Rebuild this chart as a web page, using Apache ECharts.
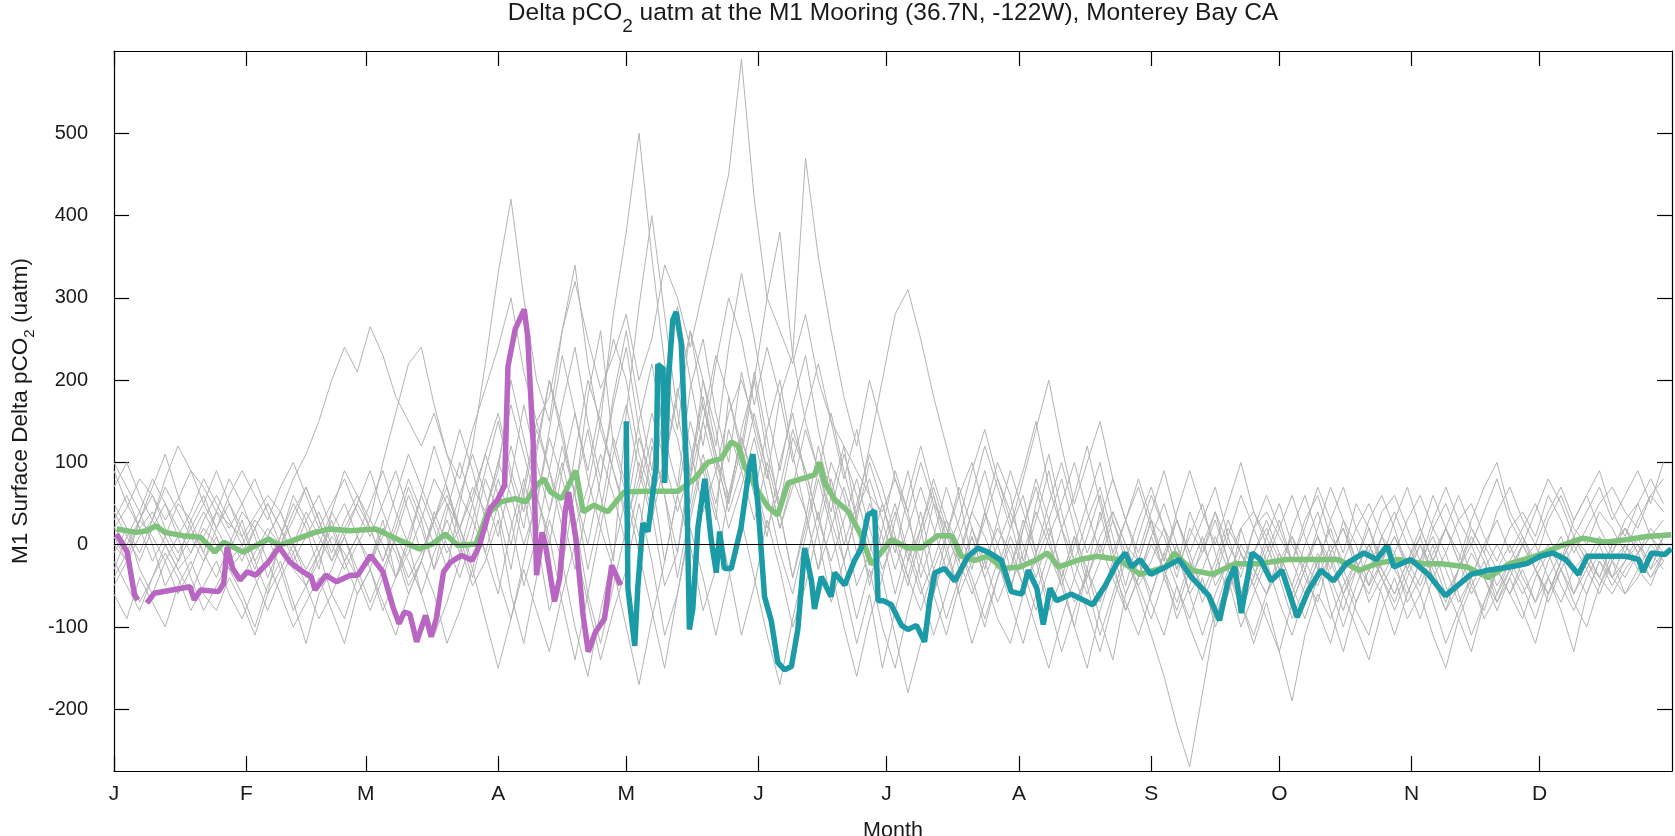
<!DOCTYPE html>
<html>
<head>
<meta charset="utf-8">
<title>Delta pCO2 at the M1 Mooring</title>
<script src="https://cdn.jsdelivr.net/npm/echarts@6/dist/echarts.min.js"></script>
<style>
html, body { margin: 0; padding: 0; background: #fff; }
#chart { width: 1675px; height: 836px; }
</style>
</head>
<body>
<div id="chart"></div>
<script>
// month starts as day of year, and their one-letter labels
const monthDays = [0, 31, 59, 90, 120, 151, 181, 212, 243, 273, 304, 334]
const monthLetters = ['J', 'F', 'M', 'A', 'M', 'J', 'J', 'A', 'S', 'O', 'N', 'D']
const yTicks = [-200, -100, 0, 100, 200, 300, 400, 500]

// gray: single years, one value every 3 days from Jan 1
const grayStep = 3
const gray1 = [20, 45, 80, 60, 30, 55, 90, 70, 40, 25,
  10, 35, 60, 40, 80, 110, 150, 200, 240, 210,
  265, 230, 180, 150, 120, 160, 110, 80, 140, 190,
  240, 300, 210, 150, 180, 260, 320, 250, 190, 230,
  280, 200, 250, 340, 300, 240, 310, 380, 450, 590,
  420, 300, 260, 220, 280, 200, 150, 120, 90, 60,
  40, 80, 30, -20, 50, 20, -10, 40, 10, -30,
  20, 60, -10, 30, 80, 20, -40, 10, 40, 0,
  -20, 30, 10, -40, 20, -10, 40, 0, -30, 20,
  40, 10, -20, 30, 60, 10, -20, 20, 50, 10,
  -10, 30, 60, 20, -10, 30, 50, 10, -20, 20,
  40, 10, 60, 30, -10, 20, 50, 70, 40, 20, 60, 80]
const gray2 = [-30, 10, 40, 0, -50, -20, 30, 60, 20, -10,
  30, -20, -60, 10, 50, 20, -30, 40, 90, 60,
  30, 100, 160, 220, 240, 170, 110, 60, 30, 90,
  150, 80, 20, 110, 200, 140, 60, 180, 260, 120,
  60, 150, 220, 130, 70, 190, 250, 160, 100, 210,
  140, 80, 180, 230, 150, 90, 40, 110, 60, 0,
  -40, 30, 90, 20, -60, 10, 60, -20, 30, 80,
  30, -30, 50, 110, 40, -20, 30, 70, 10, -50,
  10, 60, 20, -30, 10, 50, -10, -60, 20, 40,
  0, -40, 20, 60, 10, -30, 30, 0, -50, 10,
  40, 0, -30, 20, 50, 10, -40, 0, 30, -10,
  20, 50, 10, -20, 30, 60, 20, -10, 30, 50, 10, 30]
const gray3 = [-60, -90, -40, -70, -100, -50, -20, -60, -80, -40,
  -70, -110, -60, -30, -80, -50, -10, -60, -90, -40,
  -20, 30, -40, 10, 60, 20, -30, 50, 120, 220,
  330, 420, 300, 200, 150, 260, 340, 220, 140, 90,
  40, 130, 80, -20, 60, 150, 90, 30, 180, 120,
  60, 140, 200, 110, 40, -30, 60, 120, 30, -50,
  20, 90, 40, -40, 10, 70, 20, -30, 40, 100,
  60, -20, 30, 90, 20, -40, 10, 60, -10, -60,
  -20, 30, -40, -80, -30, 10, -50, -20, 20, -30,
  -60, -20, 10, -40, -70, -10, 20, -30, -60, -20,
  10, -30, -60, -20, 20, -10, -50, -80, -30, 0,
  -40, -70, -20, 10, -30, -60, -20, -40, 0, -30, -50, -10]
const gray4 = [50, 20, -10, 30, 70, 40, 10, -20, 20, 50,
  20, -20, 10, 40, 0, -40, -10, 30, -20, -60,
  -30, 20, -10, -60, -20, 40, 0, -40, 10, 80,
  40, -30, 60, 140, 90, 20, 110, 200, 150, 280,
  380, 500, 350, 220, 140, 260, 200, 120, 240, 330,
  250, 160, 90, 170, 230, 140, 70, 0, 50, 110,
  70, 10, -40, 20, 80, 30, -20, 40, 90, 30,
  -30, 20, 70, 10, -50, 0, 50, 100, 30, -20,
  30, 70, 20, -30, 40, 0, -40, 10, 60, 20,
  -20, 20, 60, 10, -30, 30, 70, 20, -10, 40,
  60, 20, -20, 30, 70, 30, 0, 40, 80, 30,
  0, 40, 80, 50, 10, 40, 70, 30, 60, 90, 50, 100]
const gray5 = [10, -20, 30, 70, 110, 60, 20, -10, 40, 80,
  50, 10, -40, 0, 40, 70, 30, -20, 20, 50,
  90, 40, 0, -50, -20, 30, -10, 20, 70, 40,
  100, 170, 110, 50, 140, 230, 160, 90, 170, 250,
  200, 110, 60, 170, 130, 50, 150, 230, 180, 110,
  200, 300, 380, 230, 470, 350, 260, 180, 120, 200,
  140, 80, 40, 100, 50, -10, 30, 90, 140, 80,
  40, 90, 150, 70, 20, 60, 120, 50, -10, 30,
  80, 30, -20, 40, 90, 40, 0, 50, 100, 40,
  10, 50, 0, -30, 20, 70, 30, -20, 30, 60,
  20, -30, 10, 60, 20, -20, 30, 70, 100, 40,
  10, -20, 30, 60, 20, 0, 40, 20, -10, 30, 60, 40]
const gray6 = [-20, -50, -80, -40, 0, -30, -60, -20, 10, -30,
  -60, -100, -50, -20, -70, -120, -60, -30, 10, -40,
  -80, -40, 10, 60, 20, -30, 40, 100, 50, -10,
  -60, 20, 80, 10, -80, -30, 70, 140, 60, -20,
  160, 290, 400, 280, 160, 80, 200, 140, 50, 120,
  210, 130, 40, -40, 30, 120, 60, -20, -90, -30,
  -100, -150, -80, -20, -60, -110, -50, 10, -40, -90,
  -120, -60, -10, -70, -130, -80, -30, -90, -140, -60,
  -20, -70, -110, -50, -90, -40, -100, -60, -10, -50,
  -90, -130, -70, -30, -80, -120, -60, -100, -140, -80,
  -40, -90, -60, -110, -150, -90, -50, -20, -70, -40,
  -80, -120, -60, -30, -70, -100, -50, -20, -60, -40, -10, -30]
const gray7 = [30, 60, 20, -20, 10, 50, 30, -10, -40, 0,
  40, 20, -20, 10, 60, 30, -10, 20, 50, 10,
  -20, 10, 60, 110, 70, 30, 80, 140, 90, 30,
  -40, -90, -20, 60, 10, -70, -140, -60, 20, -30,
  -100, -170, -90, -20, 60, 0, -80, -30, 60, 130,
  70, 10, 100, 160, 80, 10, -70, -20, 40, 120,
  200, 280, 310, 250, 180, 120, 60, 100, 40, -20,
  -60, 20, 80, 30, -40, -100, -30, 40, -20, -80,
  -40, 10, -30, -90, -50, 0, 40, -20, -60, -10,
  30, -10, -50, 0, 40, -10, -60, -20, 20, -30,
  -60, -20, 10, -40, -80, -30, 20, -10, -50, -20,
  10, -30, -60, -20, 10, -10, -40, 0, 20, -10, 10, -20]
const gray8 = [70, 100, 60, 30, 80, 120, 90, 50, 20, 60,
  90, 60, 30, 70, 100, 60, 20, 50, 80, 40,
  10, 50, 90, 40, -10, 30, 70, 20, 60, 110,
  160, 90, 40, 120, 200, 130, 60, 0, 80, 170,
  240, 140, 60, 100, 190, 120, 40, 90, 160, 200,
  150, 90, 20, 70, 140, 90, 30, -20, 40, 80,
  30, -30, 20, 70, 20, -30, 10, 60, 120, 70,
  20, 80, 140, 200, 120, 50, 100, 150, 80, 30,
  70, 20, -20, 30, -10, -60, -20, 30, -10, -40,
  10, -30, -70, -30, 10, -20, -60, -30, 0, -40,
  -70, -30, 0, -40, -80, -50, -10, -40, -70, -30,
  0, -30, -60, -20, 10, -20, -50, -10, 20, 0, -20, 10]
const gray9 = [-10, 20, -30, -60, -20, 10, -40, -80, -50, -20,
  0, -40, -80, -40, -10, -50, -90, -60, -20, 10,
  -30, -80, -40, 0, -60, -110, -70, -20, 30, -10,
  50, 120, 60, -20, 40, 100, 30, -60, -120, -50,
  20, 100, 40, -50, -10, 80, 150, 90, 20, 70,
  130, 60, -10, -60, 10, 80, 20, -50, -120, -60,
  -150, -80, -20, 40, -30, -90, -40, 20, -20, -70,
  -30, 30, -20, -80, -40, 10, -50, -110, -60, -10,
  -60, -110, -160, -220, -270, -180, -90, -40, -100, -60,
  -20, -70, -110, -60, -20, -80, -130, -70, -30, -60,
  -110, -60, -20, -70, -120, -80, -40, -90, -60, -20,
  -50, -90, -40, -10, -60, -30, 0, -40, -20, 10, -30, -10]
const gray10 = [40, 10, -20, 20, 50, 20, -10, 30, 60, 30,
  0, 30, 10, -30, 0, 40, 10, -20, 10, 50,
  20, -20, 30, 80, 40, 0, 50, 20, -30, 40,
  90, 200, 130, 60, 0, 90, 160, 80, 20, 110,
  170, 90, 30, 100, 180, 260, 170, 100, 50, 140,
  200, 110, 50, 130, 90, 30, 100, 60, -10, 50,
  10, -60, 0, -50, -110, -60, 0, -40, -90, -40,
  0, -50, -100, -150, -90, -40, -80, -130, -70, -20,
  -50, -90, -40, 0, -60, -110, -60, -20, -70, -120,
  -70, -130, -190, -110, -60, -90, -50, -20, -70, -40,
  -10, -50, -90, -40, -10, -60, -110, -70, -30, -60,
  -30, -70, -40, -80, -130, -60, -20, -50, -20, 0, -30, 10]
const gray11 = [0, -20, 10, 30, 0, -30, -10, 20, 0, -20,
  -40, -10, 20, 0, -30, -50, -20, 10, -10, -40,
  -20, 20, 0, -40, -10, 30, 60, 20, -20, 40,
  100, 60, 0, 50, 130, 80, 20, 70, 150, 90,
  30, 80, 160, 100, 40, 90, 170, 110, 60, 130,
  80, 20, 70, 140, 90, 30, -20, 30, 80, 20,
  -30, 10, -40, -80, -30, 10, -20, -60, -20, 20,
  -10, -50, -20, 20, -30, -70, -40, 0, -40, -80,
  -40, 0, -30, -70, -20, -50, -90, -40, 0, -30,
  -60, -30, 10, -20, -50, -10, 20, -20, -50, -20,
  10, -20, -50, -10, 20, -20, -60, -30, 0, -30,
  -60, -30, 0, -30, -60, -20, 10, -20, -40, -10, 10, -10]
const gray12 = [90, 50, 20, 40, 10, -20, 10, 40, 10, -30,
  -10, 20, 50, 20, -20, 10, 40, 0, -30, 0,
  30, 0, -40, -10, 30, 80, 50, 0, -50, -20,
  30, -60, -120, -40, 30, -20, -100, -160, -80, -10,
  60, -10, -80, -150, -60, 20, -40, -110, -40, 30,
  -40, -110, -170, -90, -20, 40, -30, -100, -160, -90,
  -40, -110, -180, -120, -60, -10, -60, -120, -70, -20,
  -70, -120, -60, -10, -50, -100, -150, -80, -30, -70,
  -110, -60, -10, -50, -100, -140, -80, -30, -70, -110,
  -60, -10, -50, -90, -40, 0, -40, -80, -110, -50,
  -20, -70, -40, 0, -50, -90, -130, -70, -30, -60,
  -90, -40, -10, -50, -80, -40, -10, -40, -60, -30, 0, -20]
const gray13 = [-40, -10, 30, 10, -20, -60, -30, 10, 40, 10,
  -20, 20, 50, 20, -10, 30, 60, 20, -20, 10,
  50, 90, 40, 0, 60, 120, 70, 10, -40, 20,
  80, 30, -50, 10, 90, 40, -30, 50, 110, 60,
  0, 70, 130, 60, -10, 100, 180, 110, 40, 90,
  160, 90, 20, 80, 40, -30, 20, 70, 20, -40,
  0, 50, -10, -60, -20, 30, 0, -50, -100, -40,
  10, -30, -80, -30, 20, -20, -60, -20, 30, -10,
  -50, -20, 20, -10, -60, -30, 10, -30, -80, -40,
  0, -40, -90, -50, -10, -50, -100, -50, -10, -40,
  -80, -40, 0, -30, -70, -30, 10, -20, -60, -30,
  0, -30, -70, -30, 0, -30, -60, -20, 0, -20, -40, -10]
const gray14 = [100, 70, 40, 80, 50, 10, 40, 80, 50, 20,
  50, 80, 40, 0, 30, 70, 30, -10, 30, 60,
  20, -20, 20, 70, 30, -30, 10, 60, 110, 60,
  10, 80, 170, 100, 40, 120, 60, -30, 40, 130,
  70, 10, 120, 60, -40, 40, 110, 50, 140, 90,
  30, 100, 40, -40, 20, 90, 160, 90, 30, 100,
  50, -10, 60, 120, 60, 10, 70, 20, -30, 30,
  90, 40, -10, 50, 100, 40, -10, 30, 80, 30,
  -10, 40, 90, 30, -10, 30, 70, 10, -40, 20,
  60, 20, -20, 20, 70, 30, -10, 50, 20, -20,
  30, 70, 20, -20, 20, 60, 20, -10, 40, 70,
  30, 0, 40, 70, 30, 60, 90, 40, 10, 50, 80, 50]
const gray15 = [-50, -20, -70, -40, -10, -40, -80, -50, -20, -60,
  -90, -50, -20, -60, -100, -70, -40, -80, -120, -60,
  -30, -70, -110, -60, -20, -60, -120, -80, -30, -90,
  -150, -90, -30, -80, -130, -60, 0, -70, -140, -80,
  -30, 50, -20, -110, -60, 30, 100, 40, -30, -110,
  -50, 30, -30, -100, -50, 20, 80, 20, -50, -10,
  50, 0, -50, 10, 60, 0, -60, -20, 40, 0,
  -50, -10, 40, 0, -40, 10, -30, -70, -20, 30,
  -20, -60, -10, 30, -20, -70, -30, 20, -10, -50,
  -10, 30, -20, -60, -20, 20, -30, -70, -30, 10,
  -30, -60, -20, 10, -30, -70, -40, 0, -30, -60,
  -20, 0, -40, -70, -30, -10, -40, -60, -30, -10, -40, -20]
const gray16 = [20, 0, 30, 60, 20, -10, 20, 50, 90, 50,
  10, -30, 10, 40, 0, -30, 0, 40, 10, -30,
  -70, -30, 10, -20, -60, -10, 30, -10, 50, 110,
  60, 0, 70, 150, 90, 170, 240, 150, 80, 180,
  260, 170, 90, 200, 290, 200, 120, 220, 300, 250,
  170, 240, 180, 100, 160, 220, 150, 80, 140, 60,
  -10, 40, -20, 20, 70, 20, -30, 10, -40, 0,
  40, 0, -40, 10, 50, 100, 40, -10, 40, 0,
  -40, 10, 50, 0, -40, -10, 30, -20, -60, -10,
  20, -20, -60, -20, 10, -40, -80, -30, 0, -30,
  -60, -20, 20, -20, -60, -30, 0, -40, -80, -40,
  0, -30, -60, -20, 10, -20, -40, 0, 20, -10, 20, 0]
const grayYears = [gray1, gray2, gray3, gray4, gray5, gray6, gray7, gray8,
  gray9, gray10, gray11, gray12, gray13, gray14, gray15, gray16]

// green: climatology [day, uatm]
const climatology = [[0.6, 19], [5.2, 15], [7.7, 17], [9.8, 23], [11.9, 15], [16.1, 11], [20.3, 9], [23.6, -9],
  [25.7, 3], [30.3, -9], [36.2, 7], [38.7, -1], [42.9, 7], [47.1, 15], [50.4, 19], [55.4, 17], [61.3, 19],
  [66.3, 7], [71.4, -5], [74.7, 1], [77.6, 13], [80.6, -1], [84.8, 1], [87.3, 36], [90.6, 52], [94, 56],
  [96.5, 52], [99, 72], [100.7, 80], [102.3, 64], [104.9, 56], [108.2, 90], [109.9, 40], [112.4, 48],
  [115.7, 40], [119.5, 64], [124.3, 65], [128.2, 65], [132.1, 65], [136, 80], [139.1, 100], [142.3, 105],
  [144.6, 125], [146.2, 120], [147.7, 95], [150.9, 65], [153.2, 46], [155.5, 36], [157.9, 75], [161, 80],
  [164.1, 85], [165.3, 100], [166.5, 75], [168.8, 55], [171.9, 41], [175.1, 11], [177.4, -24], [179.8, -9],
  [182.1, 6], [186, -4], [189.1, -4], [193, 11], [196.2, 11], [198.5, -14], [201.6, -19], [204.8, -14],
  [208.2, -29], [212.2, -27], [216.2, -18], [218.7, -10], [221.3, -27], [226.3, -18], [230.3, -14],
  [235.3, -18], [240.4, -36], [246.4, -27], [248.4, -10], [252.5, -31], [257.5, -36], [262.6, -23],
  [268.6, -23], [274.6, -18], [280.7, -18], [286.7, -18], [291.8, -31], [295.8, -23], [300.8, -18],
  [306.9, -23], [310.9, -23], [317, -27], [322, -40], [327, -23], [333, -14], [339.1, -1], [344.1, 8],
  [349.2, 3], [354.2, 6], [359.2, 10], [364.8, 12]]

// purple: Jan - Apr of the current year (gap in early Jan)
const purpleYear = [[0.6, 13], [3.1, -9], [4.8, -61], [5.6, -67], [6.6, null], [7.7, -71], [9.4, -59],
  [13.6, -55], [17.8, -51], [18.8, -67], [20.3, -55], [24.5, -57], [25.7, -47], [26.5, -3], [27.8, -29],
  [29.5, -43], [31.2, -33], [33.2, -37], [36.2, -21], [38.7, -3], [41.2, -21], [43.7, -31], [46.2, -39],
  [47.1, -55], [49.6, -37], [52.1, -45], [55.4, -37], [57.1, -37], [60.1, -13], [63, -33], [65.5, -78],
  [66.8, -96], [68, -82], [69.3, -84], [70.9, -118], [72.2, -98], [73, -86], [74.3, -112], [75.5, -90],
  [77.2, -33], [78.9, -21], [81.4, -13], [83.9, -19], [85.6, -1], [88.1, 44], [89.8, 54], [91.5, 72],
  [92.3, 217], [94, 262], [96.1, 286], [96.9, 254], [98.2, 124], [99, -37], [100.3, 15], [101.1, -1],
  [103.2, -69], [104.4, -41], [105.7, 40], [106.5, 64], [108.2, 7], [109.9, -86], [111.1, -130],
  [112.8, -106], [114.9, -90], [116.6, -25], [118.7, -49]]

// teal: May - Dec of the previous year
const tealYear = [[120, 150], [120.4, -53], [122, -123], [122.7, -53], [123.9, 26], [125.1, 16], [127, 95],
  [127.4, 219], [128.6, 214], [129, 75], [129.8, 194], [130.9, 273], [131.7, 283], [132.9, 244], [134.1, 95],
  [134.8, -103], [135.6, -78], [136.8, 21], [138.4, 80], [139.9, 6], [141.1, -34], [141.9, 16], [143, -29],
  [144.6, -29], [146.9, 21], [148.9, 95], [149.7, 110], [150.9, 46], [152.4, -63], [154, -93], [155.5, -143],
  [157.1, -152], [158.7, -148], [160.2, -103], [161.8, -4], [163.4, -44], [164.1, -78], [165.7, -39],
  [168, -63], [168.8, -34], [171.2, -49], [173.5, -19], [175.1, -4], [176.6, 36], [178.2, 41], [179, -68],
  [180.2, -68], [182.1, -73], [184.5, -98], [186, -103], [188, -98], [189.9, -118], [191.1, -68],
  [192.3, -34], [194.6, -29], [197, -44], [200.1, -14], [202.4, -4], [204.8, -9], [207.9, -19],
  [210.2, -57], [212.7, -60], [214.2, -31], [216.2, -53], [217.7, -97], [219.3, -53], [220.8, -68],
  [224.3, -60], [229.3, -73], [232.3, -49], [234.9, -23], [236.9, -10], [238.4, -27], [240.4, -18],
  [242.9, -36], [246.4, -27], [249.5, -18], [252.5, -40], [256.5, -62], [259, -92], [261, -44],
  [262.6, -27], [264.1, -83], [266.6, -10], [268.6, -18], [271.1, -44], [273.6, -31], [277.2, -88],
  [279.7, -57], [282.7, -31], [285.7, -44], [288.7, -23], [292.8, -10], [295.8, -18], [298.3, -1],
  [299.8, -27], [303.8, -18], [307.9, -36], [311.9, -62], [314.9, -49], [317.9, -36], [321.9, -31],
  [327, -27], [331, -23], [334.1, -14], [337.1, -10], [340.1, -18], [343.1, -36], [345.2, -14],
  [349.2, -14], [354.2, -14], [357.2, -18], [358.2, -33], [360.2, -10], [363.3, -12], [364.8, -5]]

const font = "'Liberation Sans', Arial, sans-serif"
const ink = '#1a1a1a'

const chart = echarts.init(document.getElementById('chart'))

const series = grayYears.map(vals => ({
  type: 'line', silent: true, symbol: 'none', z: 1,
  data: vals.map((v, i) => [i * grayStep, v]),
  lineStyle: { color: '#b4b4b4', width: 1 }
}))
series.push({
  type: 'line', symbol: 'none', z: 3, data: climatology,
  lineStyle: { color: '#7fc27c', width: 5.5 }
})
series.push({
  type: 'line', symbol: 'none', z: 4, data: purpleYear, connectNulls: false,
  lineStyle: { color: '#b866c2', width: 5.5 }
})
series.push({
  type: 'line', symbol: 'none', z: 4, data: tealYear,
  lineStyle: { color: '#1b9ba6', width: 5.5 }
})
// zero reference line on top
series.push({
  type: 'line', symbol: 'none', z: 6, data: [],
  markLine: {
    silent: true, symbol: 'none', label: { show: false },
    lineStyle: { color: '#000', width: 1, type: 'solid' },
    data: [{ yAxis: 0 }]
  }
})

const frameLine = { show: true, onZero: false, lineStyle: { color: '#000', width: 1.2 } }
const tickStyle = { color: '#000', width: 1.2 }

chart.setOption({
  animation: false,
  backgroundColor: '#fff',
  grid: { left: 114, right: 3, top: 51, bottom: 65, containLabel: false, outerBoundsMode: 'none' },
  graphic: [{
    type: 'text', x: 893, y: -3,
    style: {
      text: '{n|Delta pCO}{s|2}{n| uatm at the M1 Mooring (36.7N, -122W), Monterey Bay CA}',
      align: 'center', fill: ink, font: '24.5px ' + font,
      rich: {
        n: { fontSize: 24.5, lineHeight: 32, fontFamily: font, fill: ink },
        s: { fontSize: 19, lineHeight: 19, padding: [27, 0, 0, 0], fontFamily: font, fill: ink }
      }
    }
  }],
  xAxis: [{
    type: 'value', min: 0, max: 365, position: 'bottom',
    axisLine: frameLine,
    axisTick: { inside: true, length: 15, customValues: monthDays, lineStyle: tickStyle },
    axisLabel: {
      customValues: monthDays, formatter: v => monthLetters[monthDays.indexOf(v)],
      fontSize: 21, fontFamily: font, color: ink, margin: 13
    },
    splitLine: { show: false },
    name: 'Month', nameLocation: 'middle', nameGap: 49,
    nameTextStyle: { fontSize: 21.5, fontFamily: font, color: ink }
  }, {
    type: 'value', min: 0, max: 365, position: 'top',
    axisLine: frameLine,
    axisTick: { inside: true, length: 15, customValues: monthDays, lineStyle: tickStyle },
    axisLabel: { show: false }, splitLine: { show: false }
  }],
  yAxis: [{
    type: 'value', min: -275, max: 600, position: 'left',
    axisLine: frameLine,
    axisTick: { inside: true, length: 15, customValues: yTicks, lineStyle: tickStyle },
    axisLabel: { customValues: yTicks, fontSize: 20, fontFamily: font, color: ink, margin: 26 },
    splitLine: { show: false },
    name: '{n|M1 Surface Delta pCO}{s|2}{n| (uatm)}', nameLocation: 'middle', nameGap: 78, nameRotate: 90,
    nameTextStyle: {
      color: ink,
      rich: {
        n: { fontSize: 22.5, lineHeight: 28, fontFamily: font, color: ink },
        s: { fontSize: 15, lineHeight: 15, padding: [18, 0, 0, 0], fontFamily: font, color: ink }
      }
    }
  }, {
    type: 'value', min: -275, max: 600, position: 'right',
    axisLine: frameLine,
    axisTick: { inside: true, length: 15, customValues: yTicks, lineStyle: tickStyle },
    axisLabel: { show: false }, splitLine: { show: false }
  }],
  series
})
</script>
</body>
</html>
